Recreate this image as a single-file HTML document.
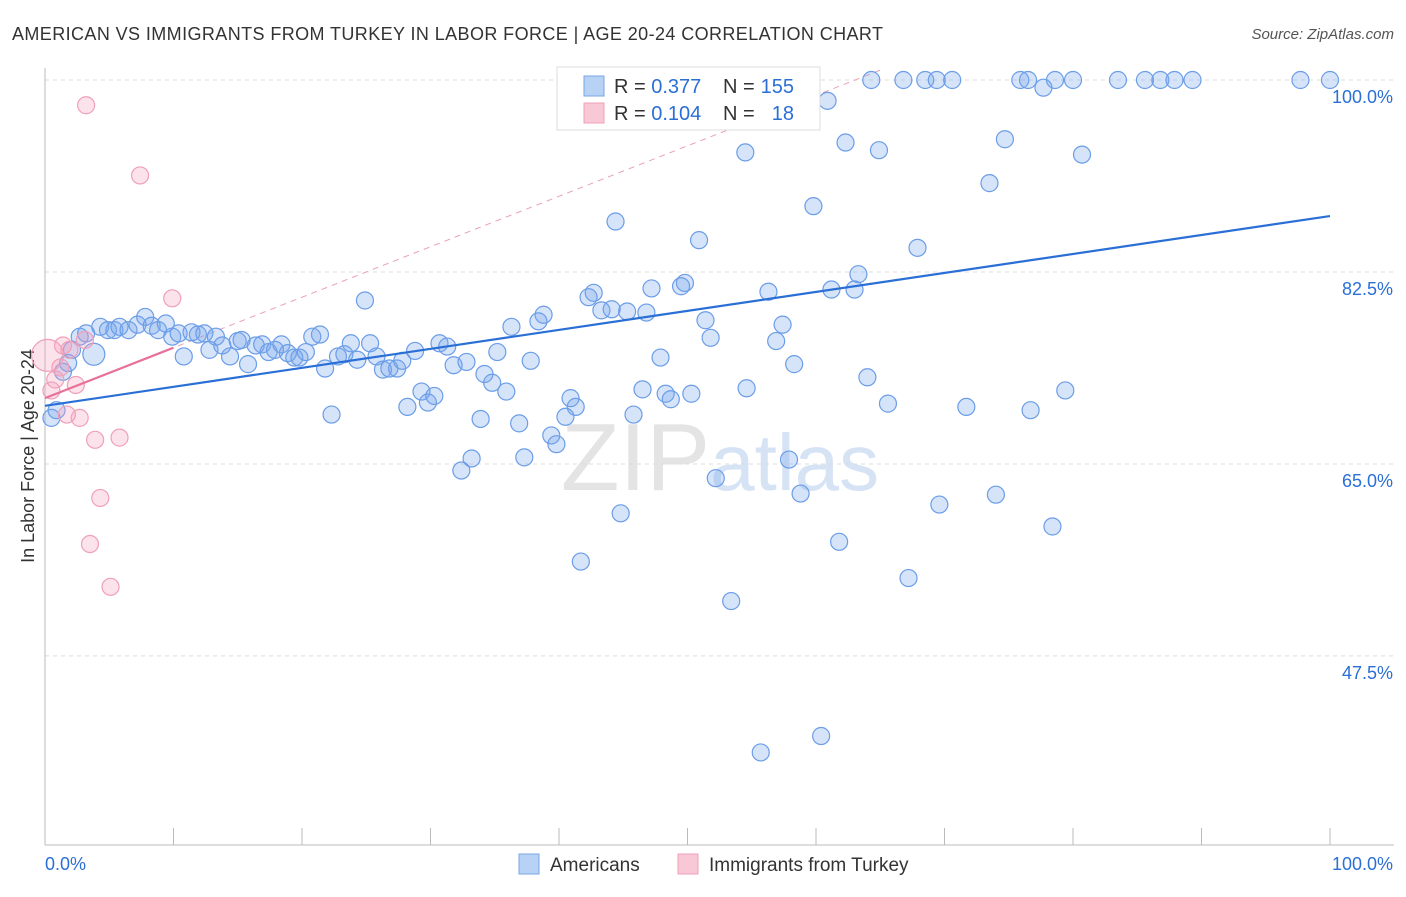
<!DOCTYPE html>
<html><head><meta charset="utf-8"><style>
body{margin:0;background:#fff;font-family:"Liberation Sans",sans-serif;}
svg text{font-family:"Liberation Sans",sans-serif;}
</style></head><body>
<svg id="chart" width="1406" height="892" xmlns="http://www.w3.org/2000/svg">
<text x="12" y="40" font-size="18" fill="#333" textLength="871" lengthAdjust="spacing">AMERICAN VS IMMIGRANTS FROM TURKEY IN LABOR FORCE | AGE 20-24 CORRELATION CHART</text>
<text x="1394" y="39" font-size="15" fill="#555" font-style="italic" text-anchor="end">Source: ZipAtlas.com</text>
<text transform="translate(34,456) rotate(-90)" font-size="18" fill="#333" text-anchor="middle">In Labor Force | Age 20-24</text>
<text x="720" y="490" font-size="96" fill="#e4e4e4" text-anchor="middle" font-family="Liberation Serif">ZIP<tspan fill="#d5e3f5" font-family="Liberation Sans" font-size="80">atlas</tspan></text>
<g id="grid"></g><g id="marks"></g>
<g>
<rect x="557" y="67" width="263" height="63" fill="#fff" stroke="#ddd"/>
<rect x="584" y="76" width="20" height="20" fill="#b8d2f5" stroke="#7aa5e6"/>
<rect x="584" y="103" width="20" height="20" fill="#f9c8d6" stroke="#f0a0b8"/>
<text x="614" y="93" font-size="20" fill="#333">R = <tspan fill="#2a6fd6">0.377</tspan></text>
<text x="723" y="93" font-size="20" fill="#333">N =</text>
<text x="794" y="93" font-size="20" fill="#2a6fd6" text-anchor="end">155</text>
<text x="614" y="120" font-size="20" fill="#333">R = <tspan fill="#2a6fd6">0.104</tspan></text>
<text x="723" y="120" font-size="20" fill="#333">N =</text>
<text x="794" y="120" font-size="20" fill="#2a6fd6" text-anchor="end">18</text>
</g>
<g>
<rect x="519" y="854" width="20" height="20" fill="#b8d2f5" stroke="#7aa5e6"/>
<text x="550" y="871" font-size="19" fill="#333">Americans</text>
<rect x="678" y="854" width="20" height="20" fill="#f9c8d6" stroke="#f0a0b8"/>
<text x="709" y="871" font-size="19" fill="#333">Immigrants from Turkey</text>
</g>
</svg>
<script>
const blueX=[53.8,64.3,66.8,68.5,69.4,70.6,75.9,76.5,78.6,80,83.5,85.6,86.8,87.9,89.3,97.7,100,77.7,60.9,54.5,62.3,64.9,74.7,80.7,73.5,59.8,44.4,50.9,67.9,63.3,61.2,63,56.3,49.8,49.5,47.2,42.7,42.3,43.3,44.1,45.3,46.8,38.8,38.4,36.3,24.9,51.4,57.4,51.8,56.9,47.9,58.3,64,54.6,46.5,48.3,48.7,50.3,65.6,71.7,76.7,79.4,45.8,40.9,41.3,40.5,39.4,39.8,36.9,33.9,37.3,33.2,32.4,52.2,57.9,58.8,74,69.6,44.8,78.4,61.8,41.7,67.2,53.4,60.4,55.7,
0.5,0.9,1.4,1.8,2.1,2.7,3.2,3.8,4.3,4.9,5.4,5.8,6.5,7.2,7.8,8.3,8.8,9.4,9.9,10.4,10.8,11.4,11.9,12.4,12.8,13.3,13.8,14.4,15,15.3,15.8,16.4,16.9,17.4,17.9,18.4,18.9,19.4,19.8,20.3,20.8,21.4,21.8,22.3,22.8,23.3,23.8,24.3,25.3,25.8,26.3,26.8,27.4,27.8,28.2,28.8,29.3,29.8,30.3,30.7,31.3,31.8,32.8,34.2,34.8,35.2,35.9,37.8];
const blueY=[100,100,100,100,100,100,100,100,100,100,100,100,100,100,100,100,100,99.3,98.1,93.4,94.3,93.6,94.6,93.2,90.6,88.5,87.1,85.4,84.7,82.3,80.9,80.9,80.7,81.5,81.2,81,80.6,80.2,79,79.1,78.9,78.8,78.6,78,77.5,79.9,78.1,77.7,76.5,76.2,74.7,74.1,72.9,71.9,71.8,71.4,70.9,71.4,70.5,70.2,69.9,71.7,69.5,71,70.2,69.3,67.6,66.8,68.7,69.1,65.6,65.5,64.4,63.7,65.4,62.3,62.2,61.3,60.5,59.3,57.9,56.1,54.6,52.5,40.2,38.7,
69.2,69.9,73.4,74.2,75.4,76.6,76.9,75,77.5,77.2,77.2,77.5,77.2,77.7,78.4,77.6,77.2,77.8,76.6,76.9,74.8,77,76.8,76.9,75.4,76.6,75.8,74.8,76.2,76.3,74.1,75.8,75.9,75.2,75.4,75.9,75.1,74.7,74.7,75.2,76.6,76.8,73.7,69.5,74.8,75,76,74.5,76,74.8,73.6,73.7,73.7,74.4,70.2,75.3,71.6,70.6,71.2,76,75.7,74,74.3,73.2,72.4,75.2,71.6,74.4];
const pinkX=[3.2,7.4,9.9,0.2,0.8,0.5,1.2,1.4,1.9,2.4,3.1,1.7,2.7,3.9,5.8,4.3,3.5,5.1];
const pinkY=[97.7,91.3,80.1,74.9,72.7,71.7,73.8,75.8,75.4,72.2,76.3,69.5,69.2,67.2,67.4,61.9,57.7,53.8];
const yTicks=[100,82.5,65,47.5];
const blueFit=[70.3,87.6];
const pinkFit=[71.0,75.6];
const X0=45,X1=1330;
function xs(v){return X0+(X1-X0)*v/100;}
function ys(v){return 80+(100-v)*10.97;}
const NS="http://www.w3.org/2000/svg";
function mk(t,a,p){const e=document.createElementNS(NS,t);for(const k in a)e.setAttribute(k,a[k]);p.appendChild(e);return e;}
const g=document.getElementById('grid'),m=document.getElementById('marks');
yTicks.forEach(v=>{
 const l=mk('line',{x1:45,x2:1394,y1:ys(v),y2:ys(v),stroke:'#ddd','stroke-dasharray':'4,4'},g);
 
 
 const t=mk('text',{x:1393,y:ys(v)+23,'font-size':18,fill:'#2a6fd6','text-anchor':'end'},g);t.textContent=v.toFixed(1)+'%';
 
 
});
const ax=mk('line',{x1:45,x2:45,y1:68,y2:845,stroke:'#bbb'},g);


const bx=mk('line',{x1:45,x2:1394,y1:845,y2:845,stroke:'#bbb'},g);


for(let i=0;i<=10;i++){const t=mk('line',{x1:xs(i*10),x2:xs(i*10),y1:828,y2:845,stroke:'#bbb'},g);
 
 }
const xl=mk('text',{x:45,y:870,'font-size':18,fill:'#2a6fd6'},g);xl.textContent='0.0%';


const xr=mk('text',{x:1393,y:870,'font-size':18,fill:'#2a6fd6','text-anchor':'end'},g);xr.textContent='100.0%';


const pd=mk('line',{x1:xs(0),y1:ys(pinkFit[0]),x2:xs(65),y2:ys(pinkFit[0]+(pinkFit[1]-pinkFit[0])*6.5),stroke:'#eaa0b8','stroke-dasharray':'6,5'},m);


blueX.forEach((x,i)=>{const c=mk('circle',{cx:xs(x),cy:ys(blueY[i]),r:(i==93?11:8.5),fill:'rgba(120,165,235,0.3)',stroke:'#6b9de8','stroke-width':1.2},m);
 
 });
pinkX.forEach((x,i)=>{const c=mk('circle',{cx:xs(x),cy:ys(pinkY[i]),r:(i==3?16:8.5),fill:'rgba(245,160,190,0.3)',stroke:'#f0a0b8','stroke-width':1.2},m);
 
 });
const bl=mk('line',{x1:xs(0),y1:ys(blueFit[0]),x2:xs(100),y2:ys(blueFit[1]),stroke:'#2a6fd6','stroke-width':2.2},m);


const pl=mk('line',{x1:xs(0),y1:ys(pinkFit[0]),x2:xs(10),y2:ys(pinkFit[1]),stroke:'#e8709a','stroke-width':2.2},m);


</script>
</body></html>
